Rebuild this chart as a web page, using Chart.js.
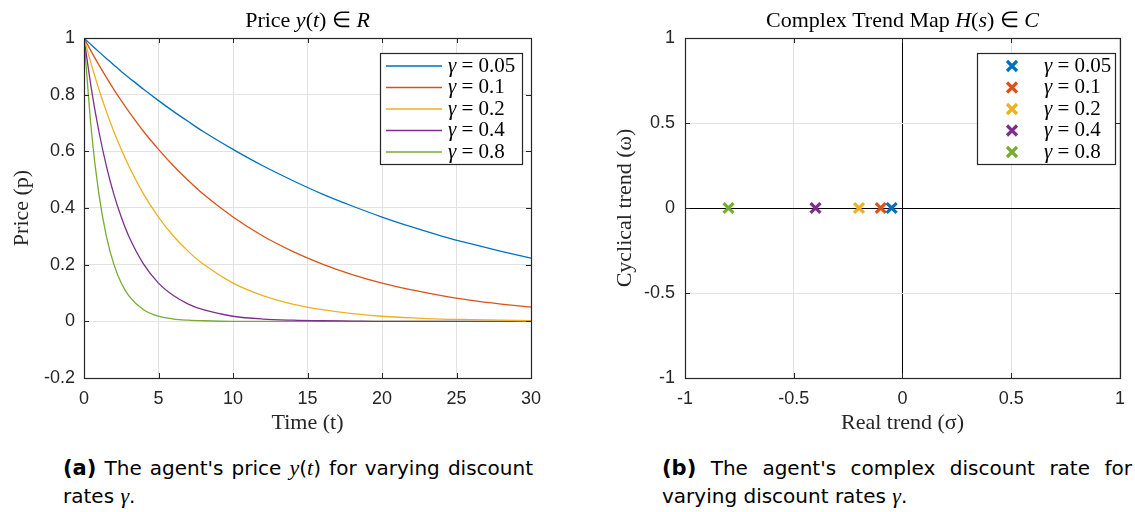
<!DOCTYPE html>
<html>
<head>
<meta charset="utf-8">
<script src="https://cdn.jsdelivr.net/npm/chart.js@4.4.0/dist/chart.umd.min.js"></script>
<style>
  body { margin: 0; background: #fff; width: 1135px; height: 512px; overflow: hidden; position: relative; }
  canvas { position: absolute; top: 0; }
  #priceChart { left: 0; }
  #trendChart { left: 567px; }
  .cap { position: absolute; font-family: "DejaVu Sans", sans-serif; font-size: 20px; color: #000; line-height: 28px; }
  .cap .line1 { text-align: justify; text-align-last: justify; white-space: nowrap; }
  .cap b { font-size: 21px; }
  .cap i { font-family: "Liberation Serif", serif; font-size: 22px; }
  #capA { left: 63px; top: 454px; width: 470px; }
  #capB { left: 662px; top: 454px; width: 470px; }
</style>
</head>
<body>
<canvas id="priceChart" width="567" height="445"></canvas>
<canvas id="trendChart" width="568" height="445"></canvas>

<div class="cap" id="capA">
  <div class="line1"><b>(a)</b> The agent's price <i>y</i>(<i>t</i>) for varying discount</div>
  <div>rates <i>γ</i>.</div>
</div>
<div class="cap" id="capB">
  <div class="line1"><b>(b)</b> The agent's complex discount rate for</div>
  <div>varying discount rates <i>γ</i>.</div>
</div>

<script>
// discount rates
const gammaLabels = ['0.05', '0.1', '0.2', '0.4', '0.8'];
const lineColors = ['#0072BD', '#D95319', '#EDB120', '#7E2F8E', '#77AC30'];

// price curves, sampled along time
const timeSteps = [0, 0.5, 1, 1.5, 2, 2.5, 3, 4, 5, 6, 7, 8, 10, 12, 14, 16, 18, 20, 22, 24, 26, 28, 30];
const price005 = [1, 0.975, 0.951, 0.928, 0.905, 0.882, 0.861, 0.819, 0.779, 0.741, 0.705, 0.670, 0.607, 0.549, 0.497, 0.449, 0.407, 0.368, 0.333, 0.301, 0.273, 0.247, 0.223];
const price01  = [1, 0.951, 0.905, 0.861, 0.819, 0.779, 0.741, 0.670, 0.607, 0.549, 0.497, 0.449, 0.368, 0.301, 0.247, 0.202, 0.165, 0.135, 0.111, 0.091, 0.074, 0.061, 0.050];
const price02  = [1, 0.905, 0.819, 0.741, 0.670, 0.607, 0.549, 0.449, 0.368, 0.301, 0.247, 0.202, 0.135, 0.091, 0.061, 0.041, 0.027, 0.018, 0.012, 0.008, 0.006, 0.004, 0.002];
const price04  = [1, 0.819, 0.670, 0.549, 0.449, 0.368, 0.301, 0.202, 0.135, 0.091, 0.061, 0.041, 0.018, 0.008, 0.004, 0.002, 0.001, 0, 0, 0, 0, 0, 0];
const price08  = [1, 0.670, 0.449, 0.301, 0.202, 0.135, 0.091, 0.041, 0.018, 0.008, 0.004, 0.002, 0, 0, 0, 0, 0, 0, 0, 0, 0, 0, 0];
const priceSeries = [price005, price01, price02, price04, price08];

// poles in the complex plane
const realTrend = [-0.05, -0.1, -0.2, -0.4, -0.8];
const cyclicalTrend = [0, 0, 0, 0, 0];

// axis ticks
const timeTicks = [0, 5, 10, 15, 20, 25, 30];
const priceTicks = [-0.2, 0, 0.2, 0.4, 0.6, 0.8, 1];
const trendTicks = [-1, -0.5, 0, 0.5, 1];

const axisColor = '#262626';
const gridColor = '#e2e2e2';
const tickFont = { family: '"Liberation Sans", Arial, sans-serif', size: 18 };
const labelFont = { family: '"Liberation Serif", serif', size: 22 };
const serif = '"Liberation Serif", serif';

const fmt = v => String(+Number(v).toFixed(2));
const setTicks = list => scale => { scale.ticks = list.map(v => ({ value: v })); };

// title with italic math pieces
const richTitle = {
  id: 'richTitle',
  afterDraw(chart, args, opts) {
    const ctx = chart.ctx;
    const area = chart.chartArea;
    ctx.save();
    ctx.fillStyle = '#000';
    ctx.textBaseline = 'alphabetic';
    const fonts = { n: `${opts.size}px ${serif}`, i: `italic ${opts.size}px ${serif}` };
    let total = 0;
    opts.parts.forEach(([txt, st]) => { ctx.font = fonts[st]; total += ctx.measureText(txt).width; });
    let x = (area.left + area.right) / 2 - total / 2;
    opts.parts.forEach(([txt, st]) => {
      ctx.font = fonts[st];
      ctx.fillText(txt, x, opts.y);
      x += ctx.measureText(txt).width;
    });
    ctx.restore();
  }
};

// closed axes box with small inward tick marks
const axesBox = {
  id: 'axesBox',
  afterDatasetsDraw(chart) {
    const ctx = chart.ctx;
    const { left, right, top, bottom } = chart.chartArea;
    const xs = chart.scales.x, ys = chart.scales.y;
    ctx.save();
    ctx.strokeStyle = axisColor;
    ctx.lineWidth = 1;
    ctx.beginPath();
    xs.ticks.forEach(t => {
      const px = Math.round(xs.getPixelForValue(t.value)) + 0.5;
      ctx.moveTo(px, bottom); ctx.lineTo(px, bottom - 5);
      ctx.moveTo(px, top); ctx.lineTo(px, top + 5);
    });
    ys.ticks.forEach(t => {
      const py = Math.round(ys.getPixelForValue(t.value)) + 0.5;
      ctx.moveTo(left, py); ctx.lineTo(left + 5, py);
      ctx.moveTo(right, py); ctx.lineTo(right - 5, py);
    });
    ctx.stroke();
    ctx.lineWidth = 1.2;
    ctx.strokeRect(Math.round(left) + 0.5, Math.round(top) + 0.5, Math.round(right - left), Math.round(bottom - top));
    ctx.restore();
  }
};

// boxed legend drawn inside the plot
const boxLegend = {
  id: 'boxLegend',
  afterDraw(chart, args, opts) {
    const ctx = chart.ctx;
    ctx.save();
    ctx.fillStyle = '#fff';
    ctx.fillRect(opts.x, opts.y, opts.w, opts.h);
    ctx.strokeStyle = axisColor;
    ctx.lineWidth = 1.2;
    ctx.strokeRect(opts.x + 0.5, opts.y + 0.5, opts.w, opts.h);
    chart.data.datasets.forEach((ds, i) => {
      const y = opts.row0 + i * opts.rowGap;
      ctx.strokeStyle = ds.borderColor;
      if (opts.marker) {
        ctx.lineWidth = 3.2;
        ctx.beginPath();
        const r = 5;
        ctx.moveTo(opts.sampleX - r, y - r); ctx.lineTo(opts.sampleX + r, y + r);
        ctx.moveTo(opts.sampleX - r, y + r); ctx.lineTo(opts.sampleX + r, y - r);
        ctx.stroke();
      } else {
        ctx.lineWidth = 1.3;
        ctx.beginPath();
        ctx.moveTo(opts.sampleX, y); ctx.lineTo(opts.sampleX2, y);
        ctx.stroke();
      }
      ctx.fillStyle = '#000';
      ctx.textBaseline = 'middle';
      ctx.font = `italic ${opts.size}px ${serif}`;
      ctx.fillText('γ', opts.textX, y);
      const w = ctx.measureText('γ').width;
      ctx.font = `${opts.size}px ${serif}`;
      ctx.fillText(' = ' + gammaLabels[i], opts.textX + w, y);
    });
    ctx.restore();
  }
};

new Chart(document.getElementById('priceChart'), {
  type: 'line',
  data: {
    datasets: priceSeries.map((s, i) => ({
      label: 'γ = ' + gammaLabels[i],
      data: timeSteps.map((t, k) => ({ x: t, y: s[k] })),
      borderColor: lineColors[i],
      borderWidth: 1.3,
      pointRadius: 0,
      cubicInterpolationMode: 'monotone',
      fill: false
    }))
  },
  options: {
    responsive: false,
    animation: false,
    layout: { padding: { top: 38, right: 36, bottom: 0, left: 0 } },
    plugins: {
      legend: { display: false },
      tooltip: { enabled: false },
      richTitle: { size: 22, y: 27, parts: [['Price ', 'n'], ['y', 'i'], ['(', 'n'], ['t', 'i'], [') ∈ ', 'n'], ['R', 'i']] },
      boxLegend: { x: 380, y: 53, w: 142, h: 111, row0: 66, rowGap: 21.5, sampleX: 386, sampleX2: 442, textX: 448, size: 21 }
    },
    scales: {
      x: {
        type: 'linear', min: 0, max: 30,
        afterBuildTicks: setTicks(timeTicks),
        afterFit: s => { s.height = 67; },
        grid: { color: gridColor, drawTicks: false },
        border: { display: false },
        ticks: { color: axisColor, font: tickFont, padding: 10, maxRotation: 0, callback: fmt },
        title: { display: true, text: 'Time (t)', color: axisColor, font: labelFont, padding: { top: 0, bottom: 9 } }
      },
      y: {
        min: -0.2, max: 1,
        afterBuildTicks: setTicks(priceTicks),
        afterFit: s => { s.width = 84; },
        grid: { color: gridColor, drawTicks: false },
        border: { display: false },
        ticks: { color: axisColor, font: tickFont, padding: 9, callback: fmt },
        title: { display: true, text: 'Price (p)', color: axisColor, font: labelFont, padding: { top: 9, bottom: 0 } }
      }
    }
  },
  plugins: [axesBox, richTitle, boxLegend]
});

new Chart(document.getElementById('trendChart'), {
  type: 'scatter',
  data: {
    datasets: realTrend.map((r, i) => ({
      label: 'γ = ' + gammaLabels[i],
      data: [{ x: r, y: cyclicalTrend[i] }],
      borderColor: lineColors[i],
      backgroundColor: lineColors[i],
      pointStyle: 'crossRot',
      pointRadius: 7,
      pointBorderWidth: 3.2
    }))
  },
  options: {
    responsive: false,
    animation: false,
    layout: { padding: { top: 38, right: 6, bottom: 0, left: 0 } },
    plugins: {
      legend: { display: false },
      tooltip: { enabled: false },
      richTitle: { size: 22, y: 27, parts: [['Complex Trend Map ', 'n'], ['H', 'i'], ['(', 'n'], ['s', 'i'], [') ∈ ', 'n'], ['C', 'i']] },
      boxLegend: { marker: true, x: 410, y: 53, w: 138, h: 111, row0: 66, rowGap: 21.5, sampleX: 445, textX: 477, size: 21 }
    },
    scales: {
      x: {
        type: 'linear', min: -1, max: 1,
        afterBuildTicks: setTicks(trendTicks),
        afterFit: s => { s.height = 67; },
        grid: { color: c => (c.tick && c.tick.value === 0 ? '#000' : gridColor), drawTicks: false },
        border: { display: false },
        ticks: { color: axisColor, font: tickFont, padding: 10, maxRotation: 0, callback: fmt },
        title: { display: true, text: 'Real trend (σ)', color: axisColor, font: labelFont, padding: { top: 0, bottom: 9 } }
      },
      y: {
        min: -1, max: 1,
        afterBuildTicks: setTicks(trendTicks),
        afterFit: s => { s.width = 118; },
        grid: { color: c => (c.tick && c.tick.value === 0 ? '#000' : gridColor), drawTicks: false },
        border: { display: false },
        ticks: { color: axisColor, font: tickFont, padding: 10, callback: fmt },
        title: { display: true, text: 'Cyclical trend (ω)', color: axisColor, font: labelFont, padding: { top: 45, bottom: 0 } }
      }
    }
  },
  plugins: [axesBox, richTitle, boxLegend]
});
</script>
</body>
</html>
